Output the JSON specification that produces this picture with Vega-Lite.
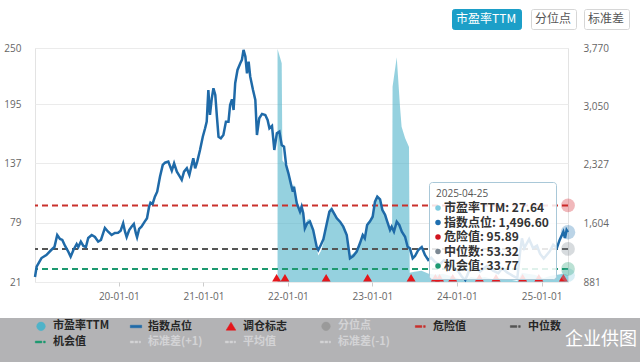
{
  "$schema": "https://vega.github.io/schema/vega-lite/v6.json",
  "width": 533,
  "height": 234,
  "autosize": {"type": "none"},
  "padding": {"left": 35, "top": 48, "right": 72, "bottom": 80},
  "background": "#ffffff",
  "config": {
    "font": "Noto Sans CJK SC",
    "view": {"stroke": "#e3e3e3", "strokeWidth": 1},
    "legend": {"gridAlign": "all"}
  },
  "datasets": {
    "index": [
      {"date":"2019-01-04","index":943},{"date":"2019-01-11","index":1070},{"date":"2019-02-01","index":1177},{"date":"2019-02-22","index":1214},
      {"date":"2019-03-15","index":1276},{"date":"2019-03-29","index":1313},{"date":"2019-04-10","index":1461},{"date":"2019-04-22","index":1412},
      {"date":"2019-05-02","index":1400},{"date":"2019-05-14","index":1326},{"date":"2019-05-28","index":1255},{"date":"2019-06-07","index":1193},
      {"date":"2019-06-19","index":1276},{"date":"2019-07-03","index":1350},{"date":"2019-07-10","index":1313},{"date":"2019-07-21","index":1379},
      {"date":"2019-08-01","index":1326},{"date":"2019-08-12","index":1313},{"date":"2019-08-22","index":1424},{"date":"2019-09-06","index":1461},
      {"date":"2019-09-20","index":1437},{"date":"2019-10-04","index":1379},{"date":"2019-10-16","index":1400},{"date":"2019-11-02","index":1548},
      {"date":"2019-11-16","index":1502},{"date":"2019-12-01","index":1461},{"date":"2019-12-15","index":1486},{"date":"2019-12-29","index":1490},
      {"date":"2020-01-09","index":1514},{"date":"2020-01-20","index":1606},{"date":"2020-01-28","index":1502},{"date":"2020-02-04","index":1437},
      {"date":"2020-02-15","index":1523},{"date":"2020-02-25","index":1564},{"date":"2020-03-06","index":1597},{"date":"2020-03-15","index":1482},
      {"date":"2020-03-20","index":1433},{"date":"2020-03-29","index":1536},{"date":"2020-04-08","index":1564},{"date":"2020-04-22","index":1626},
      {"date":"2020-05-02","index":1668},{"date":"2020-05-11","index":1811},{"date":"2020-05-17","index":1860},{"date":"2020-05-26","index":1844},
      {"date":"2020-06-05","index":1934},{"date":"2020-06-15","index":1996},{"date":"2020-06-27","index":2181},{"date":"2020-07-09","index":2326},
      {"date":"2020-07-19","index":2354},{"date":"2020-08-02","index":2367},{"date":"2020-08-17","index":2256},{"date":"2020-08-27","index":2347},
      {"date":"2020-09-08","index":2243},{"date":"2020-09-19","index":2190},{"date":"2020-09-29","index":2141},{"date":"2020-10-09","index":2243},
      {"date":"2020-10-21","index":2285},{"date":"2020-11-01","index":2202},{"date":"2020-11-11","index":2326},{"date":"2020-11-18","index":2409},
      {"date":"2020-11-26","index":2285},{"date":"2020-12-05","index":2367},{"date":"2020-12-17","index":2511},{"date":"2020-12-29","index":2675},
      {"date":"2021-01-08","index":2779},{"date":"2021-01-15","index":2861},{"date":"2021-01-22","index":3252},{"date":"2021-01-29","index":2943},
      {"date":"2021-02-06","index":3150},{"date":"2021-02-13","index":3273},{"date":"2021-02-21","index":3190},{"date":"2021-02-28","index":2922},
      {"date":"2021-03-07","index":2675},{"date":"2021-03-17","index":2655},{"date":"2021-03-28","index":2696},{"date":"2021-04-08","index":2861},
      {"date":"2021-04-19","index":2861},{"date":"2021-04-26","index":3067},{"date":"2021-05-04","index":3137},{"date":"2021-05-11","index":3005},
      {"date":"2021-05-18","index":3335},{"date":"2021-05-28","index":3499},{"date":"2021-06-09","index":3582},{"date":"2021-06-16","index":3623},
      {"date":"2021-06-23","index":3746},{"date":"2021-07-01","index":3664},{"date":"2021-07-08","index":3458},{"date":"2021-07-15","index":3602},
      {"date":"2021-07-22","index":3416},{"date":"2021-08-03","index":3252},{"date":"2021-08-13","index":3129},{"date":"2021-08-20","index":2696},
      {"date":"2021-08-30","index":2903},{"date":"2021-09-11","index":2956},{"date":"2021-09-25","index":2943},{"date":"2021-10-05","index":2882},
      {"date":"2021-10-13","index":2779},{"date":"2021-10-24","index":2808},{"date":"2021-11-03","index":2511},{"date":"2021-11-14","index":2717},
      {"date":"2021-11-25","index":2737},{"date":"2021-12-05","index":2573},{"date":"2021-12-15","index":2552},{"date":"2021-12-24","index":2326},
      {"date":"2022-01-03","index":2223},{"date":"2022-01-13","index":2100},{"date":"2022-01-22","index":1996},{"date":"2022-01-27","index":2058},
      {"date":"2022-02-08","index":1853},{"date":"2022-02-22","index":1749},{"date":"2022-03-01","index":1811},{"date":"2022-03-08","index":1729},
      {"date":"2022-03-15","index":1544},{"date":"2022-03-25","index":1606},{"date":"2022-04-06","index":1626},{"date":"2022-04-20","index":1523},
      {"date":"2022-05-05","index":1317},{"date":"2022-05-12","index":1276},{"date":"2022-05-23","index":1338},{"date":"2022-06-03","index":1408},
      {"date":"2022-06-18","index":1606},{"date":"2022-06-29","index":1749},{"date":"2022-07-09","index":1779},{"date":"2022-07-19","index":1729},
      {"date":"2022-07-31","index":1668},{"date":"2022-08-14","index":1626},{"date":"2022-08-28","index":1564},{"date":"2022-09-12","index":1461},
      {"date":"2022-09-26","index":1174},{"date":"2022-10-10","index":1202},{"date":"2022-10-25","index":1255},{"date":"2022-11-08","index":1359},
      {"date":"2022-11-20","index":1461},{"date":"2022-11-29","index":1421},{"date":"2022-12-09","index":1585},{"date":"2022-12-21","index":1626},
      {"date":"2023-01-02","index":1687},{"date":"2023-01-12","index":1873},{"date":"2023-01-22","index":1934},{"date":"2023-02-03","index":1902},
      {"date":"2023-02-13","index":1770},{"date":"2023-02-25","index":1708},{"date":"2023-03-06","index":1626},{"date":"2023-03-18","index":1523},
      {"date":"2023-03-25","index":1564},{"date":"2023-04-04","index":1502},{"date":"2023-04-16","index":1626},{"date":"2023-04-27","index":1585},
      {"date":"2023-05-08","index":1502},{"date":"2023-05-22","index":1440},{"date":"2023-06-02","index":1317},{"date":"2023-06-12","index":1297},
      {"date":"2023-06-24","index":1174},{"date":"2023-07-04","index":1202},{"date":"2023-07-18","index":1276},{"date":"2023-08-02","index":1313},
      {"date":"2023-08-16","index":1214},{"date":"2023-08-30","index":1153},{"date":"2023-09-12","index":1180},{"date":"2023-09-28","index":1130},
      {"date":"2023-10-18","index":1095},{"date":"2023-11-06","index":1150},{"date":"2023-11-24","index":1120},{"date":"2023-12-14","index":1070},
      {"date":"2024-01-05","index":1020},{"date":"2024-01-24","index":940},{"date":"2024-02-06","index":905},{"date":"2024-02-26","index":1040},
      {"date":"2024-03-15","index":1080},{"date":"2024-04-10","index":1010},{"date":"2024-05-10","index":1080},{"date":"2024-06-05","index":1020},
      {"date":"2024-06-28","index":990},{"date":"2024-07-15","index":1050},{"date":"2024-08-05","index":1000},{"date":"2024-08-28","index":960},
      {"date":"2024-09-18","index":930},{"date":"2024-09-30","index":1250},{"date":"2024-10-08","index":1420},{"date":"2024-10-18","index":1300},
      {"date":"2024-11-08","index":1410},{"date":"2024-11-25","index":1300},{"date":"2024-12-12","index":1330},{"date":"2024-12-25","index":1230},
      {"date":"2025-01-10","index":1170},{"date":"2025-02-05","index":1260},{"date":"2025-02-20","index":1340},{"date":"2025-03-08","index":1301},
      {"date":"2025-03-20","index":1400},{"date":"2025-04-05","index":1502},{"date":"2025-04-12","index":1424},{"date":"2025-04-19","index":1523},
      {"date":"2025-04-25","index":1496.6}
    ],
    "pe": [
      {"date":"2021-11-17","pe":249},{"date":"2021-12-05","pe":235},{"date":"2021-12-08","pe":140},{"date":"2021-12-15","pe":138},
      {"date":"2021-12-24","pe":135},{"date":"2022-01-03","pe":128},{"date":"2022-01-13","pe":121},{"date":"2022-01-22","pe":113},
      {"date":"2022-01-27","pe":117},{"date":"2022-02-08","pe":101},{"date":"2022-02-22","pe":93},{"date":"2022-03-01","pe":98},
      {"date":"2022-03-08","pe":90},{"date":"2022-03-15","pe":76},{"date":"2022-03-25","pe":82},{"date":"2022-04-06","pe":83},
      {"date":"2022-04-20","pe":73},{"date":"2022-05-05","pe":55},{"date":"2022-05-12","pe":47},{"date":"2022-05-23","pe":51},
      {"date":"2022-06-03","pe":59},{"date":"2022-06-18","pe":80},{"date":"2022-06-29","pe":92},{"date":"2022-07-09","pe":95},
      {"date":"2022-07-19","pe":90},{"date":"2022-07-31","pe":85},{"date":"2022-08-14","pe":81},{"date":"2022-08-28","pe":76},
      {"date":"2022-09-12","pe":68},{"date":"2022-09-26","pe":47},{"date":"2022-10-10","pe":49},{"date":"2022-10-25","pe":53},
      {"date":"2022-11-08","pe":61},{"date":"2022-11-20","pe":69},{"date":"2022-11-29","pe":66},{"date":"2022-12-09","pe":79},
      {"date":"2022-12-21","pe":82},{"date":"2023-01-02","pe":87},{"date":"2023-01-12","pe":101},{"date":"2023-01-22","pe":106},
      {"date":"2023-02-03","pe":103},{"date":"2023-02-13","pe":93},{"date":"2023-02-25","pe":89},{"date":"2023-03-06","pe":82},
      {"date":"2023-03-18","pe":74},{"date":"2023-03-27","pe":76},{"date":"2023-03-29","pe":212},{"date":"2023-04-16","pe":241},
      {"date":"2023-04-30","pe":193},{"date":"2023-05-07","pe":173},{"date":"2023-05-22","pe":162},{"date":"2023-06-08","pe":153},
      {"date":"2023-06-11","pe":30},{"date":"2023-07-01","pe":31},{"date":"2023-08-01","pe":32},{"date":"2023-09-01","pe":29},
      {"date":"2023-10-01","pe":28},{"date":"2023-11-01","pe":29},{"date":"2023-12-01","pe":27},{"date":"2024-01-01","pe":25},
      {"date":"2024-02-06","pe":22},{"date":"2024-03-01","pe":26},{"date":"2024-04-01","pe":25},{"date":"2024-05-01","pe":26},
      {"date":"2024-06-01","pe":24},{"date":"2024-07-01","pe":25},{"date":"2024-08-01","pe":24},{"date":"2024-09-18","pe":22},
      {"date":"2024-10-08","pe":30},{"date":"2024-11-01","pe":29},{"date":"2024-12-01","pe":28},{"date":"2025-01-10","pe":25},
      {"date":"2025-02-10","pe":27},{"date":"2025-03-10","pe":28},{"date":"2025-04-05","pe":29},{"date":"2025-04-25","pe":27.64}
    ],
    "refs": [
      {"name":"危险值","value":95.89},{"name":"中位数","value":53.32},{"name":"机会值","value":33.77}
    ],
    "trades": [
      {"date":"2021-11-13"},{"date":"2021-12-19"},{"date":"2022-06-15"},{"date":"2022-12-11"},{"date":"2023-06-17"},
      {"date":"2023-09-30"},{"date":"2023-10-18"},{"date":"2023-12-14"},{"date":"2024-04-07"},{"date":"2024-06-18"},
      {"date":"2024-10-11"},{"date":"2024-12-20"},{"date":"2025-04-05"}
    ],
    "hoverLeft": [
      {"date":"2025-04-25","s":"市盈率TTM: 27.64","v":27.64},
      {"date":"2025-04-25","s":"危险值: 95.89","v":95.89},
      {"date":"2025-04-25","s":"中位数: 53.32","v":53.32},
      {"date":"2025-04-25","s":"机会值: 33.77","v":33.77}
    ],
    "hoverRight": [
      {"date":"2025-04-25","s":"指数点位: 1,496.60","v":1496.6}
    ],
    "ui": [
      {"k": 1}
    ]
  },
  "layer": [
    {
      "data": {"name": "pe"},
      "mark": {"type": "area", "opacity": 0.6, "clip": true, "interpolate": "linear"},
      "encoding": {
        "x": {
          "field": "date", "type": "temporal", "title": null,
          "scale": {"type": "utc", "domain": [{"year":2019,"month":1,"date":4,"utc":true},{"year":2025,"month":4,"date":25,"utc":true}]},
          "axis": {
            "values": [{"year":2020,"month":1,"date":1,"utc":true},{"year":2021,"month":1,"date":1,"utc":true},{"year":2022,"month":1,"date":1,"utc":true},{"year":2023,"month":1,"date":1,"utc":true},{"year":2024,"month":1,"date":1,"utc":true},{"year":2025,"month":1,"date":1,"utc":true}],
            "format": "%y-%m-%d", "domain": false, "grid": false, "ticks": true, "tickSize": 4, "tickColor": "#cccccc",
            "labelPadding": 5, "labelFlush": false, "labelOverlap": false,
            "labelFont": "Open Sans", "labelFontSize": 10, "labelColor": "#666666"
          }
        },
        "y": {
          "field": "pe", "type": "quantitative", "title": null,
          "scale": {"domain": [21, 250], "zero": false, "nice": false},
          "axis": {"orient": "left", "values": [21, 79, 137, 195, 250], "grid": true, "gridColor": "#ebebeb", "domain": false, "ticks": false, "labelPadding": 14, "labelFlush": false, "labelOverlap": false, "labelFont": "Open Sans", "labelFontSize": 10, "labelColor": "#666666"}
        },
        "color": {
          "datum": "市盈率TTM", "title": null,
          "scale": {
            "domain": ["市盈率TTM","指数点位","调仓标志","分位点","危险值","中位数","机会值","标准差(+1)","平均值","标准差(-1)"],
            "range": ["#4fb3c9","#1f6aa8","#e5161b","#9a9a9a","#c9302c","#555555","#1e9970","#d3d3d5","#d3d3d5","#d3d3d5"]
          },
          "legend": {
            "orient": "none", "legendX": 0, "legendY": 272, "direction": "horizontal", "columns": 6, "title": null,
            "symbolSize": 130, "symbolStrokeWidth": 0.5, "symbolOpacity": 1, "labelFontSize": 11, "labelFontWeight": "bold", "labelOffset": 6,
            "labelFont": "Noto Sans CJK SC", "labelColor": "#262626", "columnPadding": 19, "rowPadding": 4, "gridAlign": "all", "padding": 0, "zindex": 2,
            "encode": {
              "labels": {"update": {"fill": {"signal": "(datum.value === '分位点' || datum.value === '标准差(+1)' || datum.value === '平均值' || datum.value === '标准差(-1)') ? '#d3d3d5' : '#262626'"}}}
            }
          }
        }
      }
    },
    {
      "data": {"name": "refs"},
      "mark": {"type": "rule", "strokeDash": [6, 4], "strokeWidth": 2},
      "encoding": {
        "y": {"field": "value", "type": "quantitative", "title": null, "scale": {"domain": [21, 250], "zero": false, "nice": false}, "axis": null},
        "color": {
          "field": "name", "type": "nominal", "title": null,
          "scale": {
            "domain": ["市盈率TTM","指数点位","调仓标志","分位点","危险值","中位数","机会值","标准差(+1)","平均值","标准差(-1)"],
            "range": ["#4fb3c9","#1f6aa8","#e5161b","#9a9a9a","#c9302c","#555555","#1e9970","#d3d3d5","#d3d3d5","#d3d3d5"]
          }
        }
      }
    },
    {
      "data": {"name": "index"},
      "mark": {"type": "line", "strokeWidth": 2.5, "interpolate": "linear"},
      "encoding": {
        "x": {
          "field": "date", "type": "temporal", "title": null,
          "scale": {"type": "utc", "domain": [{"year":2019,"month":1,"date":4,"utc":true},{"year":2025,"month":4,"date":25,"utc":true}]},
          "axis": {
            "values": [{"year":2020,"month":1,"date":1,"utc":true},{"year":2021,"month":1,"date":1,"utc":true},{"year":2022,"month":1,"date":1,"utc":true},{"year":2023,"month":1,"date":1,"utc":true},{"year":2024,"month":1,"date":1,"utc":true},{"year":2025,"month":1,"date":1,"utc":true}],
            "format": "%y-%m-%d", "domain": false, "grid": false, "ticks": true, "tickSize": 4, "tickColor": "#cccccc",
            "labelPadding": 5, "labelFlush": false, "labelOverlap": false,
            "labelFont": "Open Sans", "labelFontSize": 10, "labelColor": "#666666"
          }
        },
        "y": {
          "field": "index", "type": "quantitative", "title": null,
          "scale": {"domain": [881, 3770], "zero": false, "nice": false},
          "axis": {"orient": "right", "values": [881, 1604, 2327, 3050, 3770], "format": ",d", "grid": false, "domain": false, "ticks": false, "labelPadding": 15, "labelFlush": false, "labelOverlap": false, "labelFont": "Open Sans", "labelFontSize": 10, "labelColor": "#666666"}
        },
        "color": {
          "datum": "指数点位", "title": null,
          "scale": {
            "domain": ["市盈率TTM","指数点位","调仓标志","分位点","危险值","中位数","机会值","标准差(+1)","平均值","标准差(-1)"],
            "range": ["#4fb3c9","#1f6aa8","#e5161b","#9a9a9a","#c9302c","#555555","#1e9970","#d3d3d5","#d3d3d5","#d3d3d5"]
          }
        }
      }
    },
    {
      "data": {"name": "hoverRight"},
      "mark": {"type": "point", "filled": true, "size": 210, "opacity": 0.3},
      "encoding": {
        "x": {
          "field": "date", "type": "temporal", "title": null,
          "scale": {"type": "utc", "domain": [{"year":2019,"month":1,"date":4,"utc":true},{"year":2025,"month":4,"date":25,"utc":true}]},
          "axis": {
            "values": [{"year":2020,"month":1,"date":1,"utc":true},{"year":2021,"month":1,"date":1,"utc":true},{"year":2022,"month":1,"date":1,"utc":true},{"year":2023,"month":1,"date":1,"utc":true},{"year":2024,"month":1,"date":1,"utc":true},{"year":2025,"month":1,"date":1,"utc":true}],
            "format": "%y-%m-%d", "domain": false, "grid": false, "ticks": true, "tickSize": 4, "tickColor": "#cccccc",
            "labelPadding": 5, "labelFlush": false, "labelOverlap": false,
            "labelFont": "Open Sans", "labelFontSize": 10, "labelColor": "#666666"
          }
        },
        "y": {"field": "v", "type": "quantitative", "title": null, "scale": {"domain": [881, 3770], "zero": false, "nice": false}, "axis": null},
        "fill": {
          "field": "s", "type": "nominal", "title": null,
          "scale": {"domain": ["市盈率TTM: 27.64","指数点位: 1,496.60","危险值: 95.89","中位数: 53.32","机会值: 33.77"], "range": ["#7fcbe0","#1f6fb0","#d0141f","#7c8893","#1e9a72"]},
          "legend": {
            "orient": "none", "legendX": 394, "legendY": 134, "direction": "vertical",
            "title": "2025-04-25", "titleFontSize": 10, "titleFontWeight": "normal", "titleColor": "#555555", "titleFont": "Open Sans", "titlePadding": 3,
            "symbolType": "circle", "symbolSize": 30, "symbolOpacity": 1, "symbolOffset": -4, "labelOffset": 0,
            "labelFontSize": 12, "labelColor": "#333333", "labelFontWeight": "bold", "labelFont": "Noto Sans CJK SC",
            "rowPadding": 2.5, "padding": 7, "fillColor": "rgba(255,255,255,0.86)", "strokeColor": "#a9c8d8", "cornerRadius": 3, "zindex": 2,
            "encode": {"symbols": {"update": {"opacity": {"value": 1}}}}
          }
        }
      }
    },
    {
      "data": {"name": "trades"},
      "mark": {"type": "point", "filled": true, "size": 110, "opacity": 1, "yOffset": -4},
      "encoding": {
        "x": {
          "field": "date", "type": "temporal", "title": null,
          "scale": {"type": "utc", "domain": [{"year":2019,"month":1,"date":4,"utc":true},{"year":2025,"month":4,"date":25,"utc":true}]},
          "axis": {
            "values": [{"year":2020,"month":1,"date":1,"utc":true},{"year":2021,"month":1,"date":1,"utc":true},{"year":2022,"month":1,"date":1,"utc":true},{"year":2023,"month":1,"date":1,"utc":true},{"year":2024,"month":1,"date":1,"utc":true},{"year":2025,"month":1,"date":1,"utc":true}],
            "format": "%y-%m-%d", "domain": false, "grid": false, "ticks": true, "tickSize": 4, "tickColor": "#cccccc",
            "labelPadding": 5, "labelFlush": false, "labelOverlap": false,
            "labelFont": "Open Sans", "labelFontSize": 10, "labelColor": "#666666"
          }
        },
        "y": {"datum": 21, "type": "quantitative", "title": null, "scale": {"domain": [21, 250], "zero": false, "nice": false}, "axis": null},
        "color": {
          "datum": "调仓标志", "title": null,
          "scale": {
            "domain": ["市盈率TTM","指数点位","调仓标志","分位点","危险值","中位数","机会值","标准差(+1)","平均值","标准差(-1)"],
            "range": ["#4fb3c9","#1f6aa8","#e5161b","#9a9a9a","#c9302c","#555555","#1e9970","#d3d3d5","#d3d3d5","#d3d3d5"]
          }
        },
        "shape": {
          "datum": "调仓标志", "title": null,
          "scale": {
            "domain": ["市盈率TTM","指数点位","调仓标志","分位点","危险值","中位数","机会值","标准差(+1)","平均值","标准差(-1)"],
            "range": [
              "M0.75,0A0.75,0.75 0 1,1 -0.75,0A0.75,0.75 0 1,1 0.75,0Z",
              "M-1,-0.22H1V0.22H-1Z",
              "M0,-0.75L0.85,0.65L-0.85,0.65Z",
              "M0.75,0A0.75,0.75 0 1,1 -0.75,0A0.75,0.75 0 1,1 0.75,0Z",
              "M-1,-0.16H0.15V0.16H-1ZM0.45,-0.16H0.75V0.16H0.45Z",
              "M-1,-0.16H0.15V0.16H-1ZM0.45,-0.16H0.75V0.16H0.45Z",
              "M-1,-0.16H0.15V0.16H-1ZM0.45,-0.16H0.75V0.16H0.45Z",
              "M-1,-0.16H-0.45V0.16H-1ZM-0.2,-0.16H0.3V0.16H-0.2ZM0.55,-0.16H0.8V0.16H0.55Z",
              "M-1,-0.16H-0.45V0.16H-1ZM-0.2,-0.16H0.3V0.16H-0.2ZM0.55,-0.16H0.8V0.16H0.55Z",
              "M-1,-0.16H-0.45V0.16H-1ZM-0.2,-0.16H0.3V0.16H-0.2ZM0.55,-0.16H0.8V0.16H0.55Z"
            ]
          },
          "legend": {
            "orient": "none", "legendX": 0, "legendY": 272, "direction": "horizontal", "columns": 6, "title": null,
            "symbolSize": 130, "symbolStrokeWidth": 0.5, "symbolOpacity": 1, "labelFontSize": 11, "labelFontWeight": "bold", "labelOffset": 6,
            "labelFont": "Noto Sans CJK SC", "labelColor": "#262626", "columnPadding": 19, "rowPadding": 4, "gridAlign": "all", "padding": 0, "zindex": 2
          }
        }
      }
    },
    {
      "data": {"name": "hoverLeft"},
      "mark": {"type": "point", "filled": true, "size": 190, "opacity": 0.3},
      "encoding": {
        "x": {
          "field": "date", "type": "temporal", "title": null,
          "scale": {"type": "utc", "domain": [{"year":2019,"month":1,"date":4,"utc":true},{"year":2025,"month":4,"date":25,"utc":true}]},
          "axis": {
            "values": [{"year":2020,"month":1,"date":1,"utc":true},{"year":2021,"month":1,"date":1,"utc":true},{"year":2022,"month":1,"date":1,"utc":true},{"year":2023,"month":1,"date":1,"utc":true},{"year":2024,"month":1,"date":1,"utc":true},{"year":2025,"month":1,"date":1,"utc":true}],
            "format": "%y-%m-%d", "domain": false, "grid": false, "ticks": true, "tickSize": 4, "tickColor": "#cccccc",
            "labelPadding": 5, "labelFlush": false, "labelOverlap": false,
            "labelFont": "Open Sans", "labelFontSize": 10, "labelColor": "#666666"
          }
        },
        "y": {"field": "v", "type": "quantitative", "title": null, "scale": {"domain": [21, 250], "zero": false, "nice": false}, "axis": null},
        "fill": {
          "field": "s", "type": "nominal", "title": null,
          "scale": {"domain": ["市盈率TTM: 27.64","指数点位: 1,496.60","危险值: 95.89","中位数: 53.32","机会值: 33.77"], "range": ["#7fcbe0","#1f6fb0","#d0141f","#7c8893","#1e9a72"]},
          "legend": null
        }
      }
    },
    {
      "data": {"name": "ui"},
      "mark": {"type": "point", "opacity": 0},
      "encoding": {
        "strokeDash": {
          "datum": "企业供图", "type": "nominal", "title": null,
          "legend": {
            "orient": "none", "legendX": -35, "legendY": 270, "title": null, "padding": 13, "fillColor": "#b3b3b5",
            "symbolOpacity": 0, "labelFontSize": 18, "labelColor": "#ffffff", "labelOffset": 534, "labelFont": "Noto Sans CJK SC", "labelLimit": 200, "zindex": 1
          }
        },
        "strokeWidth": {
          "datum": "市盈率TTM", "type": "nominal", "title": null,
          "legend": {
            "orient": "none", "legendX": 417, "legendY": -39, "title": null, "padding": 4, "fillColor": "#1c9fc8", "strokeColor": "#1c9fc8", "cornerRadius": 2,
            "symbolOpacity": 0, "symbolSize": 0, "labelOffset": -12, "labelFontSize": 12, "labelColor": "#ffffff", "labelFont": "Noto Sans CJK SC",
            "labelExpr": "'    ' + datum.label + '   '", "zindex": 2
          }
        },
        "stroke": {
          "datum": "分位点", "type": "nominal", "title": null,
          "scale": {"range": ["#d6d6d6"]},
          "legend": {
            "orient": "none", "legendX": 496, "legendY": -39, "title": null, "padding": 4, "fillColor": "#ffffff", "strokeColor": "#d6d6d6", "cornerRadius": 2,
            "symbolOpacity": 0, "symbolSize": 0, "labelOffset": -12, "labelFontSize": 12, "labelColor": "#555555", "labelFont": "Noto Sans CJK SC",
            "labelExpr": "'  ' + datum.label + '  '", "zindex": 2
          }
        },
        "fill": {
          "datum": "标准差", "type": "nominal", "title": null,
          "scale": {"range": ["#ffffff"]},
          "legend": {
            "orient": "none", "legendX": 549, "legendY": -39, "title": null, "padding": 4, "fillColor": "#ffffff", "strokeColor": "#d6d6d6", "cornerRadius": 2,
            "symbolOpacity": 0, "symbolSize": 0, "labelOffset": -12, "labelFontSize": 12, "labelColor": "#555555", "labelFont": "Noto Sans CJK SC",
            "labelExpr": "' ' + datum.label + ' '", "zindex": 2
          }
        }
      }
    }
  ],
  "resolve": {"scale": {"y": "independent", "fill": "independent"}}
}
